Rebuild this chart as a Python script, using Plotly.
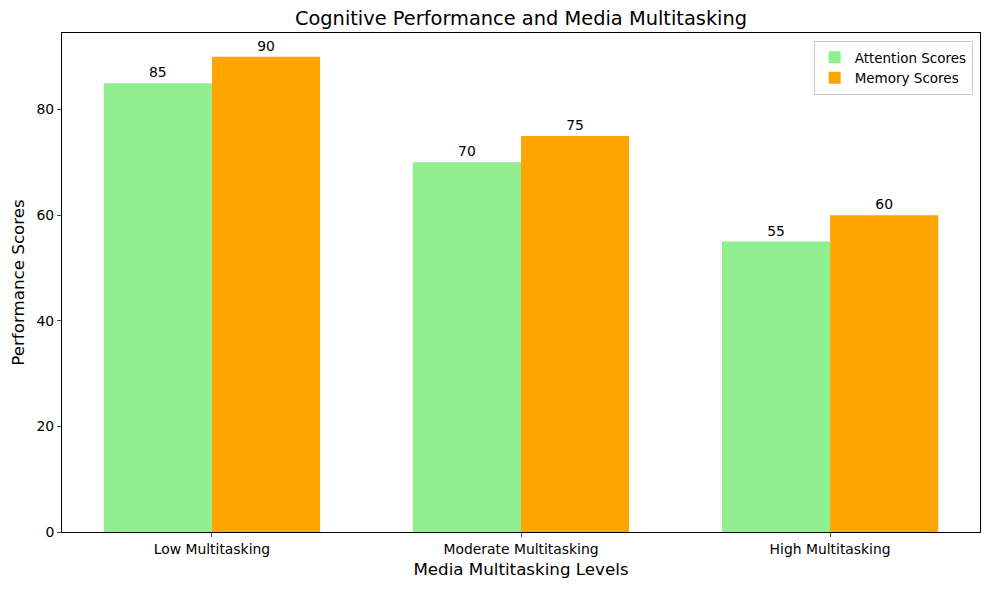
import plotly.graph_objects as go

# Data
levels = ["Low Multitasking", "Moderate Multitasking", "High Multitasking"]
attention_scores = [85, 70, 55]
memory_scores = [90, 75, 60]

positions = list(range(len(levels)))
font = "DejaVu Sans"

fig = go.Figure()
fig.add_trace(
    go.Bar(
        name="Attention Scores",
        x=positions,
        y=attention_scores,
        marker_color="lightgreen",
        marker_line_width=0,
        text=attention_scores,
        textposition="outside",
        cliponaxis=False,
        textfont=dict(size=13.9, color="black"),
    )
)
fig.add_trace(
    go.Bar(
        name="Memory Scores",
        x=positions,
        y=memory_scores,
        marker_color="orange",
        marker_line_width=0,
        text=memory_scores,
        textposition="outside",
        cliponaxis=False,
        textfont=dict(size=13.9, color="black"),
    )
)

# page body has an 8px margin, so the figure is a bit smaller than the window
fig.update_layout(
    width=973,
    height=574,
    barmode="group",
    bargap=0.3,
    bargroupgap=0,
    plot_bgcolor="white",
    paper_bgcolor="white",
    font=dict(family=font, size=13.9, color="black"),
    margin=dict(l=54, r=1, t=25, b=50, autoexpand=False),
    title=dict(
        text="Cognitive Performance and Media Multitasking",
        xref="paper",
        x=0.5,
        xanchor="center",
        yref="container",
        y=0.983,
        yanchor="middle",
        font=dict(size=19.4),
    ),
    legend=dict(
        x=0.992,
        xanchor="right",
        y=0.984,
        yanchor="top",
        bordercolor="#cccccc",
        borderwidth=1,
        font=dict(size=13.5),
        tracegroupgap=2,
    ),
)

fig.update_xaxes(
    range=[-0.485, 2.485],
    tickvals=positions,
    ticktext=levels,
    showline=True,
    linecolor="black",
    mirror=True,
    ticks="outside",
    ticklen=4,
    showgrid=False,
    automargin=False,
    title=dict(text="Media Multitasking Levels", font=dict(size=16.7), standoff=7),
)
fig.update_yaxes(
    range=[0, 94.5],
    tickvals=[0, 20, 40, 60, 80],
    showline=True,
    linecolor="black",
    mirror=True,
    ticks="outside",
    ticklen=4,
    showgrid=False,
    zeroline=False,
    automargin=False,
    title=dict(text="Performance Scores", font=dict(size=16.7), standoff=10),
)

fig.write_html("out.html")
